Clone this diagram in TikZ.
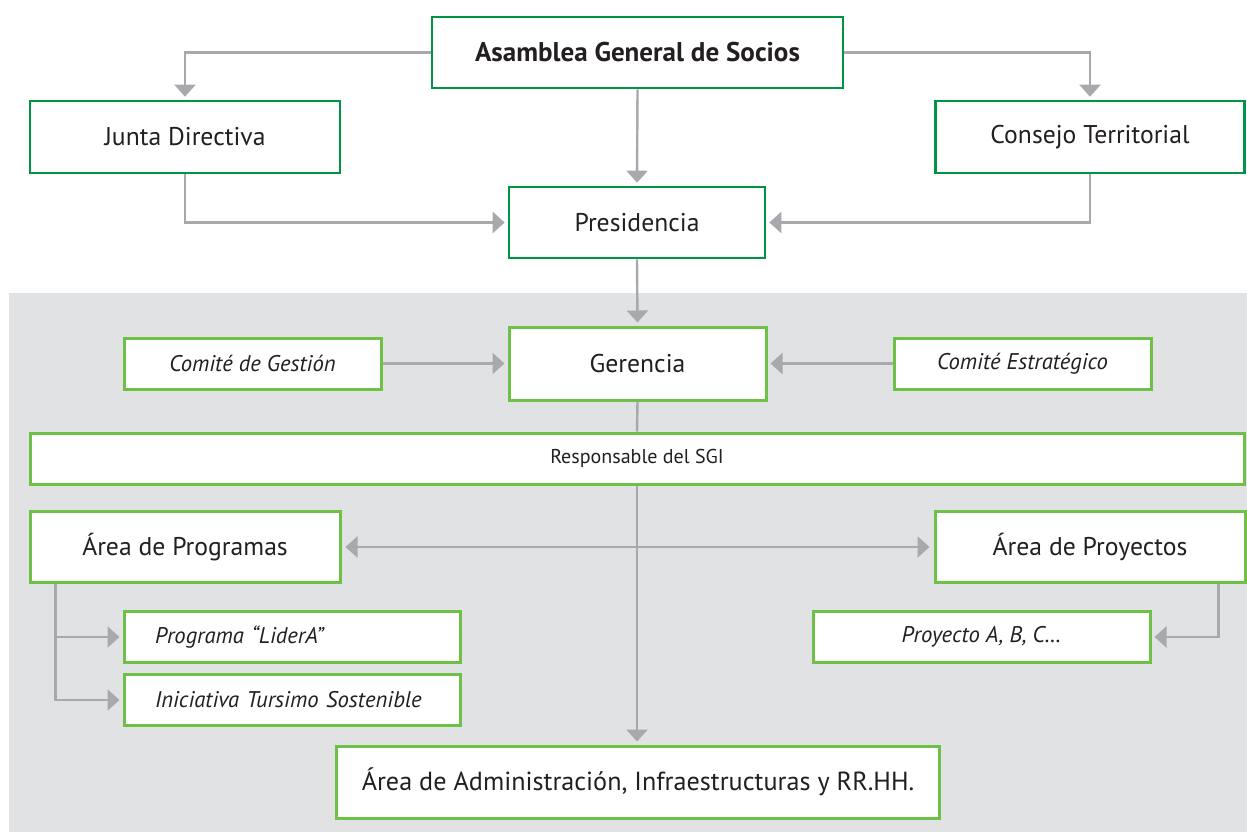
\documentclass[tikz,border=0pt]{standalone}
\usepackage{fontspec}
\setmainfont{PT Sans}
\usetikzlibrary{arrows.meta,positioning}
\definecolor{dgreen}{RGB}{0,148,68}
\definecolor{lgreen}{RGB}{110,192,70}
\definecolor{bggray}{RGB}{225,226,227}
\definecolor{lgray}{RGB}{167,169,172}
\definecolor{txt}{RGB}{35,31,32}
\def\u{0.02cm}
\tikzset{
  dbox/.style={draw=dgreen, line width=2.6*\u, fill=white, text=txt, inner sep=0pt, font=\fontsize{14.6}{17}\selectfont},
  lbox/.style={draw=lgreen, line width=3*\u, fill=white, text=txt, inner sep=0pt, font=\fontsize{14.6}{17}\selectfont},
  ibox/.style={lbox, font=\fontsize{12.9}{15}\selectfont\itshape},
  arr/.style={draw=lgray, line width=2.4*\u, -{Triangle[width=21*\u,length=12*\u]}, shorten >=3*\u},
  dar/.style={draw=lgray, line width=2.4*\u, {Triangle[width=21*\u,length=12*\u]}-{Triangle[width=21*\u,length=12*\u]}, shorten >=4*\u, shorten <=4*\u},
  ln/.style={draw=lgray, line width=2.4*\u}
}
\begin{document}
\begin{tikzpicture}[x=\u,y=-\u]
\useasboundingbox (0,0) rectangle (1247,832);
\fill[bggray] (9,293) rectangle (1247,832);
% nodes
\node[dbox, minimum width=411*\u, minimum height=71*\u, font=\fontsize{15.4}{18}\selectfont\bfseries] (asm) at (637.5,52.5) {Asamblea General de Socios};
\node[dbox, minimum width=310*\u, minimum height=72*\u] (jd) at (185,137) {Junta Directiva};
\node[dbox, minimum width=309*\u, minimum height=72*\u] (ct) at (1090,137) {Consejo Territorial};
\node[dbox, minimum width=256*\u, minimum height=71*\u] (pres) at (637,222.5) {Presidencia};
\node[lbox, minimum width=257*\u, minimum height=73*\u] (ger) at (637.5,363.5) {Gerencia};
\node[ibox, minimum width=257*\u, minimum height=51*\u] (cg) at (252.5,363.5) {Comité de Gestión};
\node[ibox, minimum width=257*\u, minimum height=51*\u] (ce) at (1022.5,363.5) {Comité Estratégico};
\node[lbox, minimum width=1214*\u, minimum height=51*\u, font=\fontsize{11.4}{13}\selectfont] (sgi) at (637,458.5) {Responsable del SGI};
\node[lbox, minimum width=310*\u, minimum height=71*\u] (ap) at (185,547) {Área de Programas};
\node[lbox, minimum width=310*\u, minimum height=71*\u] (apy) at (1090,547) {Área de Proyectos};
\node[ibox, minimum height=51*\u, inner xsep=31*\u, text width=274*\u, align=left] (pl) at (292,637) {Programa “LiderA”};
\node[ibox, minimum height=51*\u, inner xsep=31*\u, text width=274*\u, align=left] (its) at (292,700) {Iniciativa Tursimo Sostenible};
\node[ibox, minimum width=337*\u, minimum height=51*\u] (pab) at (981.5,637) {Proyecto A, B, C…};
\node[lbox, minimum width=603*\u, minimum height=72*\u, font=\fontsize{14.9}{17}\selectfont] (adm) at (638,782) {Área de Administración, Infraestructuras y RR.HH.};
% connectors
\draw[arr] (asm.west) -| (jd.north);
\draw[arr] (asm.east) -| (ct.north);
\draw[arr] (asm.south) -- (pres.north);
\draw[arr] (jd.south) |- (pres.west);
\draw[arr] (ct.south) |- (pres.east);
\draw[arr] (pres.south) -- (ger.north);
\draw[arr] (cg.east) -- (ger.west);
\draw[arr] (ce.west) -- (ger.east);
\draw[ln] (ger.south) -- (sgi.north);
\draw[arr] (sgi.south) -- (sgi.south |- adm.north);
\draw[dar] (ap.east) -- (apy.west);
\draw[arr] ([xshift=27*\u]ap.south west) |- (pl.west);
\draw[arr] ([xshift=27*\u]ap.south west) |- (its.west);
\draw[arr] ([xshift=-28*\u]apy.south east) |- (pab.east);
\end{tikzpicture}
\end{document}
